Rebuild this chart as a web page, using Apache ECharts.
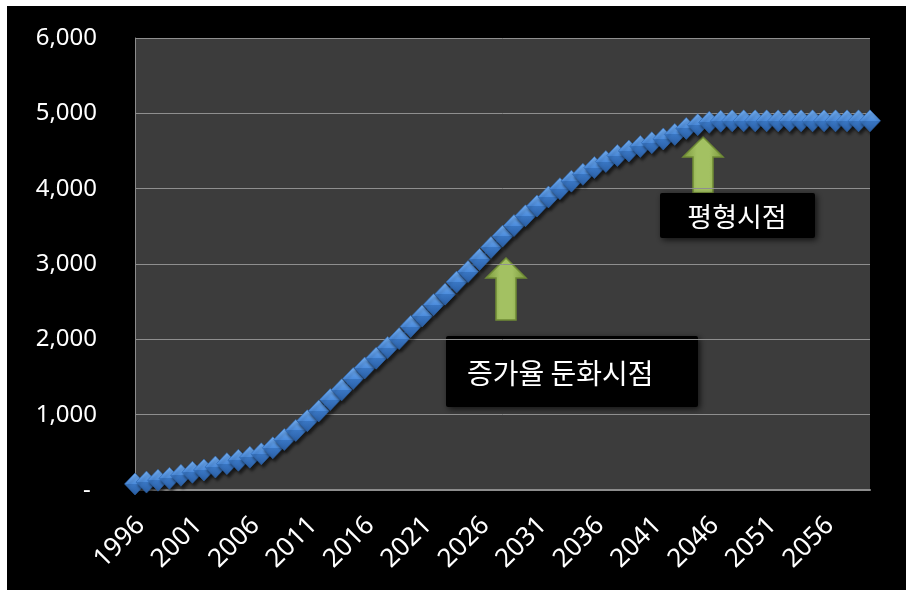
<!DOCTYPE html>
<html>
<head>
<meta charset="utf-8">
<script src="https://cdn.jsdelivr.net/npm/echarts@6/dist/echarts.min.js"></script>
<style>
  html, body { margin: 0; padding: 0; background: #ffffff; }
  #chart { width: 906px; height: 590px; }
</style>
</head>
<body>
<div id="chart"></div>
<script>
// Years on the category axis
const years = [
  '1996','1997','1998','1999','2000','2001','2002','2003','2004','2005',
  '2006','2007','2008','2009','2010','2011','2012','2013','2014','2015',
  '2016','2017','2018','2019','2020','2021','2022','2023','2024','2025',
  '2026','2027','2028','2029','2030','2031','2032','2033','2034','2035',
  '2036','2037','2038','2039','2040','2041','2042','2043','2044','2045',
  '2046','2047','2048','2049','2050','2051','2052','2053','2054','2055',
  '2056','2057','2058','2059','2060'
];

// Cumulative count per year (S-curve)
const totals = [
  80, 105, 130, 155, 195, 235, 265, 305, 350, 395,
  435, 480, 560, 670, 790, 920, 1050, 1200, 1330, 1480,
  1620, 1750, 1890, 2010, 2170, 2310, 2460, 2600, 2760, 2900,
  3060, 3220, 3370, 3510, 3640, 3770, 3890, 4000, 4100, 4190,
  4280, 4360, 4440, 4500, 4560, 4610, 4660, 4720, 4800, 4850,
  4880, 4895, 4900, 4900, 4900, 4900, 4900, 4900, 4900, 4900,
  4900, 4900, 4900, 4900, 4900
];

// Value axis ticks
const yMin = 0;
const yMax = 6000;
const yStep = 1000;

// Callout texts
const noteSlowdown = '증가율 둔화시점';
const noteBalance = '평형시점';

const numFont = '"Noto Sans", "Open Sans", sans-serif';
const krFont = '"Noto Sans CJK KR", "Noto Sans", sans-serif';

function fmtThousands(v) {
  if (v === 0) return '- ';
  return String(v).replace(/\B(?=(\d{3})+(?!\d))/g, ',');
}

function upArrow(tipX, tipY, headW, headH, shaftW, bottomY) {
  const hw = headW / 2, sw = shaftW / 2, baseY = tipY + headH;
  return [
    [tipX, tipY], [tipX + hw, baseY], [tipX + sw, baseY], [tipX + sw, bottomY],
    [tipX - sw, bottomY], [tipX - sw, baseY], [tipX - hw, baseY]
  ];
}

const arrowFill = new echarts.graphic.LinearGradient(0, 0, 1, 0, [
  { offset: 0, color: '#7a983c' },
  { offset: 0.35, color: '#a3c162' },
  { offset: 0.65, color: '#a3c162' },
  { offset: 1, color: '#7a983c' }
]);

const chart = echarts.init(document.getElementById('chart'));

chart.setOption({
  backgroundColor: '#000000',
  animation: false,
  grid: {
    left: 135, right: 36, top: 38, bottom: 100,
    show: true, backgroundColor: '#3c3c3c', borderWidth: 0
  },
  xAxis: {
    type: 'category',
    data: years,
    boundaryGap: false,
    axisLine: { show: true, lineStyle: { color: '#8c8c8c', width: 2 } },
    axisTick: { show: false },
    splitLine: { show: false },
    axisLabel: {
      interval: 4,
      rotate: 45,
      margin: 37,
      padding: [0, -8, 0, 0],
      color: '#ffffff',
      fontSize: 26,
      fontFamily: numFont
    }
  },
  yAxis: {
    type: 'value',
    min: yMin, max: yMax, interval: yStep,
    axisLine: { show: true, lineStyle: { color: '#8c8c8c', width: 1 } },
    axisTick: { show: false },
    splitLine: { show: true, lineStyle: { color: '#8f8f8f', width: 1 } },
    axisLabel: {
      margin: 38,
      color: '#ffffff',
      fontSize: 24,
      fontFamily: numFont,
      formatter: fmtThousands
    }
  },
  series: [{
    type: 'line',
    data: totals,
    symbol: 'diamond',
    symbolSize: [21, 22],
    showSymbol: true,
    showAllSymbol: true,
    lineStyle: { color: '#3b7bcc', width: 2 },
    itemStyle: {
      color: new echarts.graphic.LinearGradient(0, 0, 0, 1, [
        { offset: 0, color: '#74aef0' },
        { offset: 0.5, color: '#4c8cdc' },
        { offset: 0.5, color: '#3a77c4' },
        { offset: 1, color: '#2a5fa6' }
      ]),
      borderColor: '#2f66ad',
      borderWidth: 0.6,
      shadowColor: 'rgba(0,0,0,0.6)',
      shadowBlur: 3,
      shadowOffsetX: 2,
      shadowOffsetY: 3
    },
    emphasis: { disabled: true }
  }],
  graphic: [
    // white frame strips on top and left
    { type: 'rect', shape: { x: 0, y: 0, width: 906, height: 6 }, style: { fill: '#ffffff' }, silent: true },
    { type: 'rect', shape: { x: 0, y: 0, width: 7, height: 590 }, style: { fill: '#ffffff' }, silent: true },

    // slowdown callout
    { type: 'polygon', shape: { points: upArrow(506, 258, 40, 20, 20, 320) },
      style: { fill: arrowFill, stroke: '#6f8b35', lineWidth: 1.5 }, silent: true },
    { type: 'rect', shape: { x: 446, y: 336, width: 252, height: 71, r: 2 },
      style: { fill: '#000000', shadowColor: 'rgba(0,0,0,0.7)', shadowBlur: 6, shadowOffsetX: 2, shadowOffsetY: 2 }, silent: true },
    { type: 'text', x: 467, y: 373,
      style: { text: noteSlowdown, fill: '#ffffff', font: '28px ' + krFont, align: 'left', verticalAlign: 'middle' }, silent: true },

    // balance callout
    { type: 'polygon', shape: { points: upArrow(703, 137, 40, 20, 20, 193) },
      style: { fill: arrowFill, stroke: '#6f8b35', lineWidth: 1.5 }, silent: true },
    { type: 'rect', shape: { x: 660, y: 193, width: 155, height: 45, r: 2 },
      style: { fill: '#000000', shadowColor: 'rgba(0,0,0,0.7)', shadowBlur: 6, shadowOffsetX: 2, shadowOffsetY: 2 }, silent: true },
    { type: 'text', x: 737, y: 217,
      style: { text: noteBalance, fill: '#ffffff', font: '27px ' + krFont, align: 'center', verticalAlign: 'middle' }, silent: true }
  ]
});
</script>
</body>
</html>
